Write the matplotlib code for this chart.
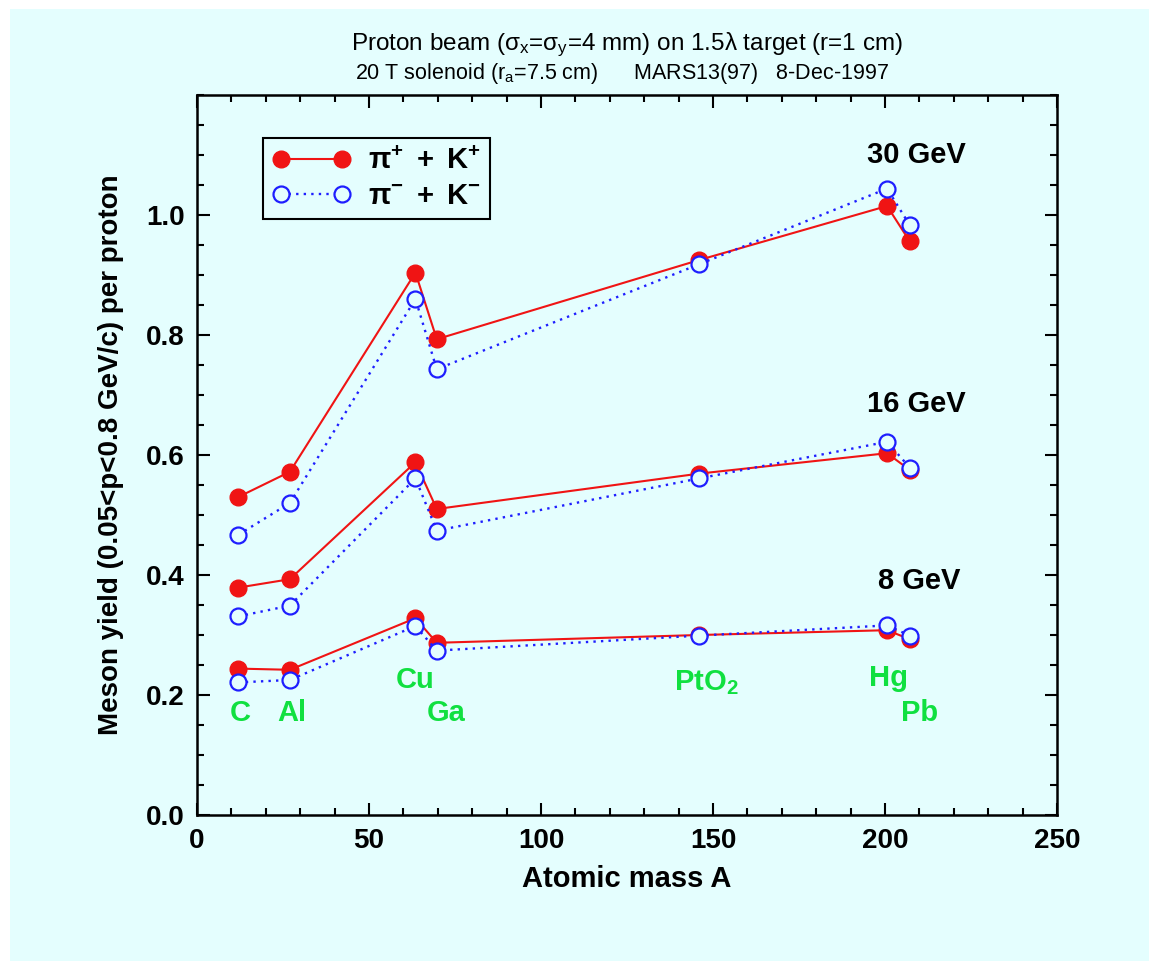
import matplotlib
matplotlib.use("Agg")
import matplotlib.pyplot as plt
from matplotlib.patches import Rectangle
from matplotlib.lines import Line2D

plt.rcParams["font.family"] = ["Liberation Sans", "DejaVu Sans"]
plt.rcParams["mathtext.fontset"] = "custom"
plt.rcParams["mathtext.rm"] = "Liberation Sans"
plt.rcParams["mathtext.it"] = "Liberation Sans"
plt.rcParams["mathtext.bf"] = "Liberation Sans:bold"

# Data
mass_A = [12, 27, 63.5, 69.7, 146, 200.6, 207.2]
pos_30 = [0.530, 0.572, 0.904, 0.793, 0.925, 1.015, 0.956]
neg_30 = [0.467, 0.520, 0.860, 0.743, 0.918, 1.044, 0.983]
pos_16 = [0.379, 0.393, 0.588, 0.510, 0.569, 0.603, 0.575]
neg_16 = [0.331, 0.349, 0.561, 0.474, 0.561, 0.622, 0.579]
pos_8 = [0.244, 0.242, 0.328, 0.287, 0.300, 0.308, 0.293]
neg_8 = [0.221, 0.225, 0.315, 0.274, 0.299, 0.316, 0.299]

energies = ["30 GeV", "16 GeV", "8 GeV"]
energy_pos = [(209, 1.10), (209, 0.685), (210, 0.39)]

targets = ["C", "Al", "Cu", "Ga", r"$\mathbf{PtO_2}$", "Hg", "Pb"]
target_pos = [(12.5, 0.17), (27.5, 0.17), (63.5, 0.225), (72.5, 0.17),
              (148, 0.22), (201, 0.228), (210, 0.17)]

bg = "#e4fefe"
red = "#f01414"
blue = "#1e1eff"
green = "#10e040"

fig = plt.figure(figsize=(11.49, 9.61), dpi=100)
fig.patch.set_facecolor("white")
fig.patches.append(Rectangle((10 / 1149, 0), 1, 1 - 9 / 961,
                             transform=fig.transFigure, facecolor=bg,
                             edgecolor="none", zorder=-10))

ax = fig.add_axes([197 / 1149, 146 / 961, 860 / 1149, 720 / 961])
ax.set_facecolor(bg)

for pos, neg in [(pos_30, neg_30), (pos_16, neg_16), (pos_8, neg_8)]:
    ax.plot(mass_A, pos, color=red, lw=1.5, marker="o", ms=12,
            mfc=red, mec=red, zorder=3)
    ax.plot(mass_A, neg, color=blue, lw=1.7, ls=(0, (1, 2.2)), marker="o",
            ms=11.5, mfc=bg, mec=blue, mew=1.6, zorder=4)

for lab, (x, y) in zip(energies, energy_pos):
    ax.text(x, y, lab, fontsize=21, fontweight="bold", ha="center",
            va="center")

for lab, (x, y) in zip(targets, target_pos):
    ax.text(x, y, lab, fontsize=21, fontweight="bold", color=green,
            ha="center", va="center")

ax.set_xlim(0, 250)
ax.set_ylim(0, 1.2)
ax.set_xticks([0, 50, 100, 150, 200, 250])
ax.set_xticks(range(0, 251, 10), minor=True)
ax.set_yticks([0.0, 0.2, 0.4, 0.6, 0.8, 1.0])
ax.set_yticks([i * 0.05 for i in range(25)], minor=True)
ax.set_yticklabels(["0.0", "0.2", "0.4", "0.6", "0.8", "1.0"])
ax.tick_params(which="both", direction="in", top=True, right=True,
               width=1.5, labelsize=20, pad=9)
ax.tick_params(which="major", length=9)
ax.tick_params(which="minor", length=5)
for lab in ax.get_xticklabels() + ax.get_yticklabels():
    lab.set_fontweight("bold")
for sp in ax.spines.values():
    sp.set_linewidth(1.8)

ax.set_xlabel("Atomic mass A", fontsize=21, fontweight="bold", labelpad=8)
ax.set_ylabel("Meson yield (0.05<p<0.8 GeV/c) per proton", fontsize=20,
              fontweight="bold", labelpad=16)

handles = [
    Line2D([], [], color=red, lw=1.5, marker="o", ms=12, mfc=red, mec=red),
    Line2D([], [], color=blue, lw=1.7, ls=(0, (1, 2.2)), marker="o", ms=11.5,
           mfc=bg, mec=blue, mew=1.6),
]
leg = ax.legend(handles, [r"$\mathbf{\pi^{+}\ +\ K^{+}}$",
                          r"$\mathbf{\pi^{-}\ +\ K^{-}}$"],
                loc="upper left", bbox_to_anchor=(0.077, 0.94),
                borderaxespad=0, numpoints=2, handlelength=2.7,
                handletextpad=0.6, fontsize=21, fancybox=False,
                framealpha=1, facecolor=bg, edgecolor="black",
                borderpad=0.3, labelspacing=0.25)
leg.get_frame().set_linewidth(1.5)

fig.text(627 / 1149, 1 - 45 / 961,
         r"Proton beam ($\sigma_x$=$\sigma_y$=4 mm) on 1.5λ target (r=1 cm)",
         fontsize=17.5, ha="center", va="center")
fig.text(622 / 1149, 1 - 73 / 961,
         r"20 T solenoid (r$_a$=7.5 cm)      MARS13(97)   8-Dec-1997",
         fontsize=15.5, ha="center", va="center")

fig.savefig("out.png", dpi=100, facecolor=fig.get_facecolor())
